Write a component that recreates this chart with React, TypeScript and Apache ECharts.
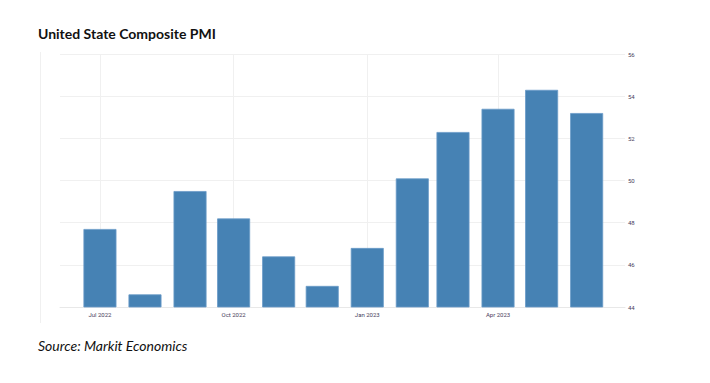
import React, { useEffect, useRef } from "react";
import * as echarts from "echarts";

const months: [number, number][] = [
  [2022, 6], [2022, 7], [2022, 8], [2022, 9], [2022, 10], [2022, 11],
  [2023, 0], [2023, 1], [2023, 2], [2023, 3], [2023, 4], [2023, 5],
];
const pmiValues = [47.7, 44.6, 49.5, 48.2, 46.4, 45.0, 46.8, 50.1, 52.3, 53.4, 54.3, 53.2];
const tickMonths: [number, number][] = [[2022, 6], [2022, 9], [2023, 0], [2023, 3]];
const monthNames = ["Jan", "Feb", "Mar", "Apr", "May", "Jun", "Jul", "Aug", "Sep", "Oct", "Nov", "Dec"];
const yTicks = { min: 44, max: 56, interval: 2 };

const DAY = 86400000;

export default function App() {
  const ref = useRef<HTMLDivElement>(null);
  useEffect(() => {
    if (!ref.current) return;
    const chart = echarts.init(ref.current, undefined, { renderer: "svg" });
    const ts = months.map(([y, m]) => Date.UTC(y, m, 1));
    const tickTs = tickMonths.map(([y, m]) => Date.UTC(y, m, 1));
    const data = ts.map((t, i) => [t, pmiValues[i]]);
    chart.setOption({
      animation: false,
      backgroundColor: "#ffffff",
      title: [
        {
          text: "United State Composite PMI",
          left: 25,
          top: 13,
          textStyle: { fontFamily: "Lato", fontWeight: "bold", fontSize: 14, color: "#111" },
        },
        {
          text: "Source: Markit Economics",
          left: 25,
          top: 325,
          textStyle: { fontFamily: "Lato", fontStyle: "italic", fontWeight: "normal", fontSize: 14, color: "#111" },
        },
      ],
      graphic: [
        {
          type: "line",
          shape: { x1: 32.5, y1: 44, x2: 32.5, y2: 315 },
          style: { stroke: "#f0f0f0", lineWidth: 1 },
        },
      ],
      grid: { left: 52, right: 77, top: 46, bottom: 68 },
      xAxis: {
        type: "value",
        min: ts[0] - 27.5 * DAY,
        max: ts[ts.length - 1] + 26.4 * DAY,
        axisLine: { show: true, lineStyle: { color: "#e8e8e8" } },
        axisTick: { show: false, customValues: tickTs },
        axisLabel: {
          customValues: tickTs,
          fontSize: 6,
          color: "#4a4060",
          fontFamily: "Roboto",
          margin: 4,
          formatter: (v: number) => {
            const d = new Date(v);
            return monthNames[d.getUTCMonth()] + " " + d.getUTCFullYear();
          },
        },
        splitLine: { show: true, lineStyle: { color: "#f0f0f0", width: 1 } },
      },
      yAxis: {
        type: "value",
        position: "right",
        min: yTicks.min,
        max: yTicks.max,
        interval: yTicks.interval,
        axisLine: { show: false },
        axisTick: { show: false },
        axisLabel: { fontSize: 6, color: "#4a4060", fontFamily: "Roboto", margin: 3 },
        splitLine: { show: true, lineStyle: { color: "#f0f0f0", width: 1 } },
      },
      series: [
        {
          type: "bar",
          data,
          barWidth: 33,
          itemStyle: { color: "#4682B4", borderColor: "#6a9bc8", borderWidth: 0.8 },
        },
      ],
    });
    return () => chart.dispose();
  }, []);
  return <div ref={ref} style={{ width: 694, height: 367 }} />;
}
